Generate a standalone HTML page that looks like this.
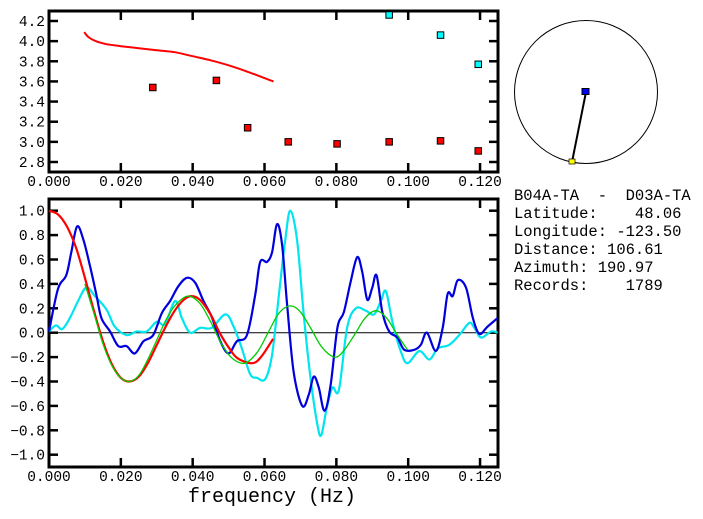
<!DOCTYPE html>
<html><head><meta charset="utf-8">
<style>
html,body{margin:0;padding:0;background:#fff;}
svg{display:block;}
text{font-family:"Liberation Mono",monospace;fill:#000;}
</style></head>
<body>
<svg id="chart" width="703" height="519" viewBox="0 0 703 519" xmlns="http://www.w3.org/2000/svg">
  <g id="topPanel"></g>
  <g id="botPanel"></g>
  <g id="map">
    <circle cx="586" cy="92" r="71.5" fill="none" stroke="#000" stroke-width="1"/>
    <line x1="586" y1="92" x2="572" y2="162" stroke="#000" stroke-width="2"/>
    <rect x="582" y="88.5" width="7" height="6" fill="#0000ff" stroke="#000" stroke-width="1"/>
    <rect x="569" y="159" width="6" height="5" fill="#ffff00" stroke="#000" stroke-width="0.7"/>
  </g>
  <g font-size="15.5" style="white-space:pre">
    <text x="514" y="200" xml:space="preserve">B04A-TA  -  D03A-TA</text>
    <text x="514" y="218" xml:space="preserve">Latitude:    48.06</text>
    <text x="514" y="236" xml:space="preserve">Longitude: -123.50</text>
    <text x="514" y="254" xml:space="preserve">Distance: 106.61</text>
    <text x="514" y="272" xml:space="preserve">Azimuth: 190.97</text>
    <text x="514" y="290" xml:space="preserve">Records:    1789</text>
  </g>
  <text x="272" y="502" font-size="20" text-anchor="middle" xml:space="preserve">frequency (Hz)</text>
</svg>
<script>
// ---- data ----
const xTicks = [0, 0.02, 0.04, 0.06, 0.08, 0.10, 0.12];
const xTickLabels = ["0.000","0.020","0.040","0.060","0.080","0.100","0.120"];
const topYTicks = [2.8, 3.0, 3.2, 3.4, 3.6, 3.8, 4.0, 4.2];
const topYTickLabels = ["2.8","3.0","3.2","3.4","3.6","3.8","4.0","4.2"];
const botYTicks = [-1.0,-0.8,-0.6,-0.4,-0.2,0,0.2,0.4,0.6,0.8,1.0];
const botYTickLabels = ["-1.0","-0.8","-0.6","-0.4","-0.2","0.0","0.2","0.4","0.6","0.8","1.0"];

const dispFreq = [0.0098,0.011,0.013,0.016,0.02,0.025,0.03,0.035,0.04,0.045,0.05,0.055,0.0595,0.0625];
const dispVel  = [4.09,4.04,4.00,3.97,3.95,3.93,3.91,3.89,3.85,3.81,3.76,3.70,3.64,3.60];
const redPtFreq = [0.0289,0.0466,0.0553,0.0666,0.0802,0.0947,0.1090,0.1195];
const redPtVel  = [3.54,3.61,3.14,3.00,2.98,3.00,3.01,2.91];
const cyanPtFreq = [0.0947,0.1090,0.1195];
const cyanPtVel  = [4.26,4.06,3.77];

const blueF = [0,.0025,.0048,.0062,.0078,.0095,.0114,.0132,.0146,.017,.0193,.0216,.0239,.0263,.029,.0314,.0337,.036,.0384,.0407,.043,.0453,.0477,.05,.0523,.0551,.0574,.0588,.0607,.0621,.0635,.0649,.0663,.0681,.0705,.0723,.0737,.0751,.0767,.0784,.0803,.0821,.084,.0858,.0872,.0886,.09,.0912,.0928,.0947,.097,.0989,.1017,.1035,.1052,.1077,.1096,.111,.1124,.1138,.1161,.118,.1198,.1221,.1249];
const blueV = [0.01,0.36,0.47,0.66,0.87,0.77,0.55,0.31,0.12,0.01,-0.11,-0.11,-0.17,-0.07,-0.02,0.16,0.26,0.38,0.45,0.41,0.26,0.13,-0.07,-0.17,-0.07,-0.02,0.31,0.58,0.58,0.66,0.89,0.72,0.23,-0.32,-0.60,-0.51,-0.36,-0.45,-0.64,-0.43,0.04,0.17,0.42,0.62,0.50,0.27,0.37,0.47,0.17,0.01,-0.04,-0.14,-0.14,-0.10,0.0,-0.15,0.04,0.32,0.30,0.43,0.37,0.12,-0.01,0.05,0.12];

const cyanF = [0,.0019,.0037,.0058,.0081,.0104,.0128,.016,.0183,.0216,.0244,.0272,.03,.0323,.0351,.037,.0393,.0421,.0453,.0491,.0514,.0537,.056,.0579,.0602,.0621,.064,.0658,.0672,.0691,.0709,.0728,.0747,.0758,.0773,.0789,.0807,.083,.0854,.0882,.0905,.0924,.0938,.0956,.0979,.0998,.1031,.1059,.1082,.1114,.1142,.117,.1184,.1203,.1231,.1249];
const cyanV = [0.01,0.06,0.03,0.12,0.26,0.37,0.30,0.19,0.05,-0.02,0.01,0.01,0.09,0.07,0.26,0.12,0.0,0.04,0.04,0.15,0.05,-0.13,-0.34,-0.37,-0.38,-0.18,0.31,0.77,1.0,0.75,0.15,-0.37,-0.75,-0.84,-0.62,-0.45,-0.47,0.04,0.20,0.18,0.15,0.26,0.34,0.09,-0.15,-0.25,-0.15,-0.22,-0.13,-0.10,-0.02,0.08,0.04,-0.04,0.01,0.0];

const redF = [0,.0025,.005,.0075,.01,.0125,.015,.0175,.02,.0224,.025,.0275,.03,.0325,.035,.0375,.0396,.042,.045,.0475,.05,.0525,.0565,.059,.0624];
const redV = [1.0,0.97,0.87,0.70,0.45,0.18,-0.07,-0.26,-0.37,-0.40,-0.36,-0.25,-0.10,0.05,0.18,0.27,0.30,0.27,0.15,0.0,-0.12,-0.21,-0.25,-0.20,-0.05];

const greenF = [.0100,.0125,.015,.0175,.02,.0225,.025,.0275,.03,.0325,.035,.0386,.042,.045,.048,.051,.0545,.058,.061,.064,.0672,.070,.073,.076,.0795,.082,.085,.088,.091,.094,.097,.0998];
const greenV = [0.40,0.16,-0.09,-0.27,-0.37,-0.40,-0.35,-0.22,-0.06,0.10,0.22,0.30,0.24,0.09,-0.09,-0.21,-0.25,-0.16,0.0,0.16,0.22,0.17,0.03,-0.12,-0.20,-0.15,-0.02,0.12,0.18,0.12,-0.02,-0.14];

// ---- axes ----
const X0 = 49, X1 = 498, XMAX = 0.125;
const xs = f => X0 + f / XMAX * (X1 - X0);
const TOP0 = 11, TOP1 = 172;
const yT = v => 162 + (v - 2.8) / 1.4 * (21 - 162);
const BOT0 = 199, BOT1 = 467;
const yB = v => 332.7 - v * 122;
const NS = "http://www.w3.org/2000/svg";
function mk(tag, attrs, parent) {
  const e = document.createElementNS(NS, tag);
  for (const k in attrs) e.setAttribute(k, attrs[k]);
  parent.appendChild(e);
  return e;
}
function line(f, v, yfun, color, w, parent, name) {
  const P = f.map((x, i) => [xs(x), yfun(v[i])]);
  let d = "M" + P[0][0].toFixed(1) + "," + P[0][1].toFixed(1);
  for (let i = 0; i < P.length - 1; i++) {
    const p0 = P[Math.max(0, i - 1)], p1 = P[i], p2 = P[i + 1], p3 = P[Math.min(P.length - 1, i + 2)];
    const c1x = p1[0] + (p2[0] - p0[0]) / 6, c1y = p1[1] + (p2[1] - p0[1]) / 6;
    const c2x = p2[0] - (p3[0] - p1[0]) / 6, c2y = p2[1] - (p3[1] - p1[1]) / 6;
    d += " C" + c1x.toFixed(1) + "," + c1y.toFixed(1) + " " + c2x.toFixed(1) + "," + c2y.toFixed(1) + " " + p2[0].toFixed(1) + "," + p2[1].toFixed(1);
  }
  const p = mk("path", {d: d, fill: "none", stroke: color, "stroke-width": w, "stroke-linejoin": "round"}, parent);
  
  
}
function frame(g, y0, y1, yTicks, yLabels, yfun, prefix) {
  const r = mk("rect", {x: X0, y: y0, width: X1 - X0, height: y1 - y0, fill: "none", stroke: "#000", "stroke-width": 3}, g);
  
  
  xTicks.forEach((t, i) => {
    const x = xs(t);
    if (i > 0) {
      const a = mk("line", {x1: x, x2: x, y1: y0, y2: y0 + 9, stroke: "#000", "stroke-width": 2.5}, g);
      
      
      const b = mk("line", {x1: x, x2: x, y1: y1, y2: y1 - 9, stroke: "#000", "stroke-width": 2.5}, g);
      
      
    }
    const tx = mk("text", {x: x, y: y1 + 14, "font-size": 14.5, "text-anchor": "middle"}, g);
    tx.textContent = xTickLabels[i];
    
    
  });
  yTicks.forEach((t, i) => {
    const y = yfun(t);
    const a = mk("line", {x1: X0, x2: X0 + 9, y1: y, y2: y, stroke: "#000", "stroke-width": 2.5}, g);
    
    
    const b = mk("line", {x1: X1, x2: X1 - 9, y1: y, y2: y, stroke: "#000", "stroke-width": 2.5}, g);
    
    
    const tx = mk("text", {x: 45, y: y + 5, "font-size": 14.5, "text-anchor": "end"}, g);
    tx.textContent = yLabels[i].replace("-", "\u2212");
    
    
  });
}
const topG = document.getElementById("topPanel");
const botG = document.getElementById("botPanel");
frame(topG, TOP0, TOP1, topYTicks, topYTickLabels, yT, "top");
frame(botG, BOT0, BOT1, botYTicks, botYTickLabels, yB, "bottom");

line(dispFreq, dispVel, yT, "#ff0000", 2, topG, "dispersion-curve");
function squares(f, v, color, name) {
  f.forEach((x, i) => {
    const cx = xs(x), cy = yT(v[i]);
    const r = mk("rect", {x: cx - 3.25, y: cy - 3.25, width: 6.5, height: 6.5, fill: color, stroke: "#000", "stroke-width": 1}, topG);
    
    
  });
}
squares(redPtFreq, redPtVel, "#ff0000", "red-measurement");
squares(cyanPtFreq, cyanPtVel, "#00ffff", "cyan-measurement");

const zl = mk("line", {x1: X0, x2: X1, y1: yB(0), y2: yB(0), stroke: "#000", "stroke-width": 1}, botG);


line(cyanF, cyanV, yB, "#00e5ee", 2.2, botG, "cyan-series");
line(blueF, blueV, yB, "#0000dd", 2.2, botG, "blue-series");
line(redF, redV, yB, "#ff0000", 2.2, botG, "red-series");
line(greenF, greenV, yB, "#00cc00", 1.3, botG, "green-series");
</script>
</body></html>
